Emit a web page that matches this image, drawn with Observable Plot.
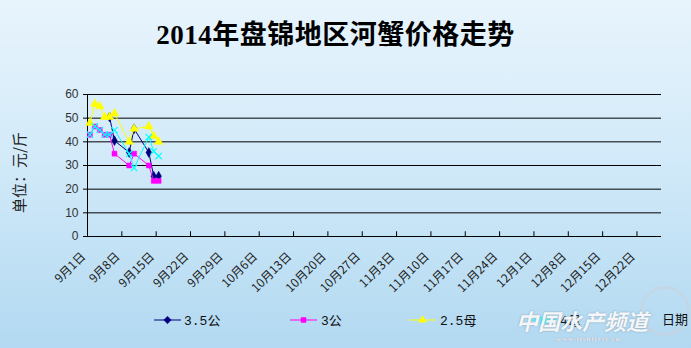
<!DOCTYPE html>
<html><head><meta charset="utf-8">
<script src="https://cdn.jsdelivr.net/npm/d3@7"></script>
<script src="https://cdn.jsdelivr.net/npm/@observablehq/plot@0.6"></script>
<style>
body{margin:0;}
#wrap{position:relative;width:691px;height:348px;overflow:hidden;background:linear-gradient(to bottom,#e8f4fc 0%,#d2eaf9 45%,#b2d9f1 100%);font-family:"Liberation Sans",Arial,sans-serif;}
#title{position:absolute;left:0;width:671px;top:13px;text-align:center;font-weight:bold;font-size:27px;font-family:"Liberation Serif","Noto Sans CJK SC",serif;color:#000;letter-spacing:0.5px;}
#chart{position:absolute;left:0;top:60px;}
#ylab{position:absolute;left:-32px;top:162px;width:100px;text-align:center;transform:rotate(-90deg);font-size:15px;font-family:"Noto Sans CJK SC",sans-serif;color:#222;}
#legend{position:absolute;left:0;top:308px;width:691px;height:24px;}
.wm{position:absolute;left:516px;top:304px;font-size:22px;font-weight:bold;font-style:italic;font-family:"Noto Sans CJK SC",sans-serif;color:rgba(255,255,255,0.92);text-shadow:0 0 2px rgba(120,140,160,0.8);}
.wm2{position:absolute;left:556px;top:335px;font-size:7px;font-weight:bold;color:rgba(255,255,255,0.85);text-shadow:0 0 1px #889;letter-spacing:1px;font-family:"Liberation Serif",serif;}
.globe{position:absolute;left:640px;top:286px;width:50px;height:50px;border-radius:50%;border:3px solid rgba(200,210,220,0.6);box-sizing:border-box;}
#xlab{position:absolute;left:662px;top:309px;font-size:13px;font-family:"Noto Sans CJK SC",sans-serif;color:#111;}
</style>
</head><body>
<div id="wrap">
  <div id="title">2014年盘锦地区河蟹价格走势</div>
  <div id="ylab">单位：元/斤</div>
  <div id="chart"></div>
  <svg id="legend" width="691" height="24"></svg>
  <div class="globe"></div>
  <div class="wm">中国水产频道</div>
  <div class="wm2">www.fishfirst.cn</div>
  <div id="xlab">日期</div>
</div>
<script>
// ---- data ----
const dates = ["2014-09-01","2014-09-02","2014-09-03","2014-09-04","2014-09-05","2014-09-06","2014-09-09","2014-09-10","2014-09-13","2014-09-14","2014-09-15"];
const seriesNames = ["3.5公","3公","2.5母","4母"];
const s35 = [null,null,null,null,50.5,40.5,35.5,45.5,35.5,25.5,25.5];
const s3  = [43,46.5,45,43,43,35,30,35,30,23.5,23.5];
const s25 = [48,56,55,50.5,50.5,52,40,45.5,46.5,42.5,40];
const s4  = [43,46.5,45,43,43,45,35,29,42,36,34];
const yTicks = [0,10,20,30,40,50,60];
const xTickDates = ["2014-09-01","2014-09-08","2014-09-15","2014-09-22","2014-09-29","2014-10-06","2014-10-13","2014-10-20","2014-10-27","2014-11-03","2014-11-10","2014-11-17","2014-11-24","2014-12-01","2014-12-08","2014-12-15","2014-12-22"];
const xDomain = ["2014-09-01","2014-12-27"];

// ---- styles ----
const styles = [
  {color:"#000080", symbol:"diamond", r:3.0, fill:true},
  {color:"#ff00ff", symbol:"square", r:2.8, fill:true},
  {color:"#ffff00", symbol:"triangle", r:3.2, fill:true},
  {color:"#00ffff", symbol:"times", r:3.0, fill:false}
];
const valuesBySeries = [s35, s3, s25, s4];
const toDate = s => new Date(s + "T00:00:00Z");
const rowsFor = vals => vals.map((v,i)=>({date:new Date(dates[i]+"T12:00:00Z"), value:v})).filter(d=>d.value!=null);

const marks = [
  Plot.ruleY(yTicks.slice(1), {stroke:"#000", strokeWidth:1}),
  Plot.ruleY([0], {stroke:"#000", strokeWidth:1}),
  Plot.ruleX([toDate(xDomain[0])], {stroke:"#000", strokeWidth:1}),
  Plot.ruleX(xTickDates.map(toDate), {x:d=>d, y1:0, y2:2, stroke:"#000"}),
  Plot.axisY({ticks:yTicks, tickSize:4, tickPadding:5, label:null, fontSize:12, fill:"#333", fontFamily:"Liberation Sans, Arial"}),
  Plot.axisX({ticks:xTickDates.map(toDate), tickFormat:d=>`${d.getUTCMonth()+1}月${d.getUTCDate()}日`, tickRotate:-45, tickSize:0, tickPadding:4, dx:-4, dy:14, label:null, fontSize:12, fill:"#222", fontFamily:"Noto Sans CJK SC"})
];
valuesBySeries.forEach((vals, k) => {
  const st = styles[k];
  const rows = rowsFor(vals);
  marks.push(Plot.line(rows, {x:"date", y:"value", stroke:st.color, strokeWidth:1}));
  marks.push(Plot.dot(rows, {x:"date", y:"value", symbol:st.symbol, r:st.r, fill: st.fill ? st.color : "none", stroke:st.color, strokeWidth: st.fill ? 0.5 : 1.2}));
});

const chart = Plot.plot({
  width:691, height:240,
  marginTop:34, marginBottom:64, marginLeft:87, marginRight:30,
  style:{background:"transparent", overflow:"visible"},
  x:{type:"utc", domain:xDomain.map(toDate)},
  y:{domain:[0,60]},
  marks
});
document.getElementById("chart").appendChild(chart);

// ---- legend ----
const leg = d3.select("#legend");
const items = [
  {x0:154, tx:184},
  {x0:290, tx:321},
  {x0:409, tx:440},
  {x0:530, tx:560}
];
seriesNames.forEach((name,k)=>{
  const st = styles[k], it = items[k];
  const g = leg.append("g");
  g.append("line").attr("x1",it.x0).attr("x2",it.x0+27).attr("y1",12).attr("y2",12).attr("stroke",st.color).attr("stroke-width",1);
  const sym = d3.symbol().type({diamond:d3.symbolDiamond2, square:d3.symbolSquare2, triangle:d3.symbolTriangle2, times:d3.symbolTimes}[st.symbol]).size(st.r*st.r*4);
  g.append("path").attr("d", sym()).attr("transform",`translate(${it.x0+13.5},12)`)
    .attr("fill", st.fill ? st.color : "none").attr("stroke", st.color).attr("stroke-width", st.fill?0.5:1.2);
  g.append("text").attr("x",it.tx).attr("y",17).text(name)
    .attr("font-size",13).attr("font-family","Liberation Mono, Noto Sans CJK SC").attr("fill","#111");
});
</script>
</body></html>
